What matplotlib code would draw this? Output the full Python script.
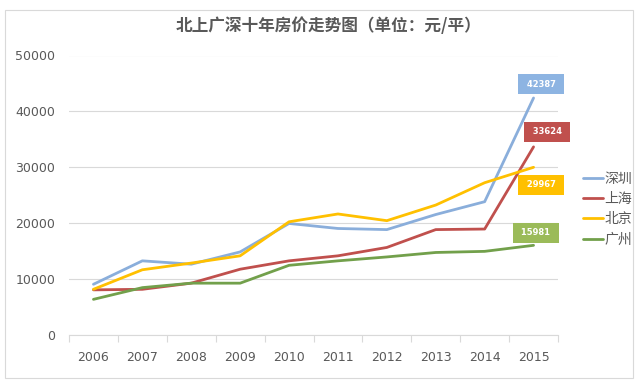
import matplotlib
matplotlib.use("Agg")
import matplotlib.pyplot as plt
from matplotlib.patches import Rectangle
import numpy as np

plt.rcParams['font.family'] = ['Noto Sans CJK SC', 'DejaVu Sans']

years = ['2006', '2007', '2008', '2009', '2010', '2011', '2012', '2013', '2014', '2015']
shenzhen = [9000, 13200, 12600, 14800, 19900, 19000, 18800, 21500, 23800, 42387]
shanghai = [8000, 8100, 9200, 11700, 13200, 14100, 15600, 18800, 18900, 33624]
beijing = [8100, 11600, 12800, 14100, 20200, 21600, 20400, 23200, 27200, 29967]
guangzhou = [6300, 8400, 9200, 9200, 12400, 13200, 13900, 14700, 14900, 15981]

series = [('深圳', shenzhen, '#8AAEDB', '#8DB4E2', (5.5, 10)),
          ('上海', shanghai, '#C0504D', '#C0504D', (9.9, 11)),
          ('北京', beijing, '#FFC000', '#FFC000', (5.5, -12.5)),
          ('广州', guangzhou, '#72A04B', '#9BBB59', (1.6, 9.1))]

fig = plt.figure(figsize=(6.4, 3.88), dpi=100)
fig.patches.append(Rectangle((5/640, 10/388), 628/640, 368/388, transform=fig.transFigure,
                             fill=False, edgecolor='#D9D9D9', linewidth=0.8))
ax = fig.add_axes([69/640, 1-334.5/388, 489/640, 279/388])

x = np.arange(len(years))
for name, vals, lc, bc, off in series:
    ax.plot(x, vals, color=lc, linewidth=2, label=name, solid_capstyle='round')
    ax.annotate(' %d ' % vals[-1], (x[-1], vals[-1]), xytext=off, textcoords='offset points',
                ha='center', va='center', fontsize=6, color='white', fontweight='bold',
                family='DejaVu Sans',
                bbox=dict(boxstyle='square,pad=0.65', facecolor=bc, edgecolor='none'))

ax.set_xlim(-0.5, len(years) - 0.5)
ax.set_ylim(0, 50000)
ax.set_yticks(range(0, 50001, 10000))
ax.set_xticks(x)
ax.set_xticklabels(years)
ax.set_xticks(np.arange(-0.5, len(years), 1), minor=True)
ax.grid(axis='y', color='#D9D9D9', linewidth=0.8)
ax.set_axisbelow(True)
for s in ['top', 'right', 'left']:
    ax.spines[s].set_visible(False)
ax.spines['bottom'].set_color('#D9D9D9')
ax.tick_params(axis='x', which='major', length=0, pad=12, labelsize=9, labelcolor='#595959')
ax.tick_params(axis='x', which='minor', length=5, color='#D9D9D9', width=0.8)
ax.tick_params(axis='y', length=0, pad=10, labelsize=9, labelcolor='#595959')
for t in ax.get_xticklabels() + ax.get_yticklabels():
    t.set_family('DejaVu Sans')

fig.text(329/640, 1-26/388, '北上广深十年房价走势图（单位：元/平）', ha='center', va='center',
         fontsize=12, fontweight='semibold', color='#595959')

fig.legend(loc='center left', bbox_to_anchor=(577/640, 1-209/388), frameon=False,
           fontsize=10, handlelength=1.5, handletextpad=0.05, labelspacing=0.45,
           labelcolor='#595959', borderaxespad=0)

fig.savefig('out.png', dpi=100)
